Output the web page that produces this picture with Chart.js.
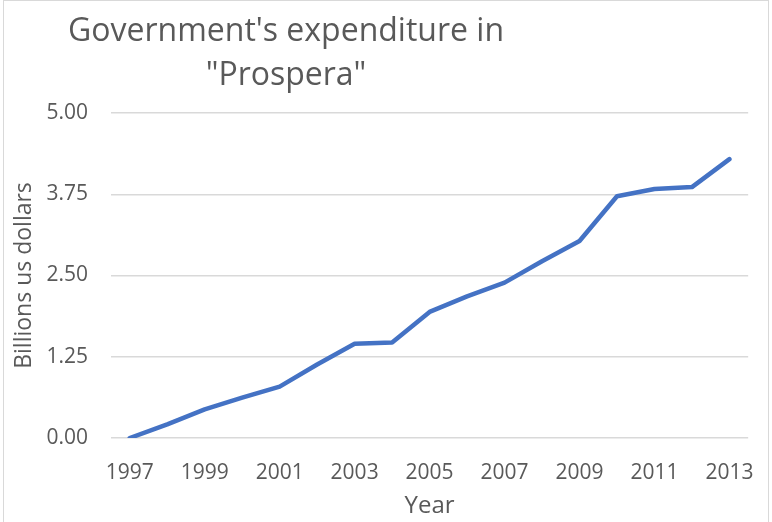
<!DOCTYPE html>
<html lang="en">
<head>
    <meta charset="UTF-8">
    <title>Government's expenditure in "Prospera"</title>
    <style>
        body {
            margin: 0;
            background: white;
            overflow: hidden;
            font-family: 'Open Sans', sans-serif;
        }
        .frame {
            position: absolute;
            left: 3px;
            top: 0;
            width: 766px;
            height: 530px;
            box-sizing: border-box;
            border: 1px solid #d9d9d9;
            background: white;
        }
        .chart-title {
            position: absolute;
            left: 32px;
            top: 6px;
            width: 500px;
            text-align: center;
            color: #595959;
            font-size: 32px;
            line-height: 44px;
        }
        .chart-box {
            position: absolute;
            left: 0;
            top: 0;
            width: 764px;
            height: 521px;
        }
    </style>
</head>
<body>
    <div class="frame">
        <div class="chart-box">
            <canvas id="expChart"></canvas>
        </div>
        <div class="chart-title">Government's expenditure in<br>"Prospera"</div>
    </div>

    <script src="https://cdn.jsdelivr.net/npm/chart.js"></script>
    <script>
        // values
        const years = ['1997', '1998', '1999', '2000', '2001', '2002', '2003', '2004', '2005',
                       '2006', '2007', '2008', '2009', '2010', '2011', '2012', '2013'];
        const spending = [0, 0.21, 0.44, 0.62, 0.79, 1.13, 1.45, 1.47, 1.94,
                          2.18, 2.39, 2.72, 3.03, 3.72, 3.83, 3.86, 4.29];
        const yTicks = [0, 1.25, 2.5, 3.75, 5];

        const grey = '#595959';
        const ctx = document.getElementById('expChart').getContext('2d');

        new Chart(ctx, {
            type: 'line',
            data: {
                labels: years,
                datasets: [{
                    label: 'Expenditure',
                    data: spending,
                    borderColor: '#4472C4',
                    borderWidth: 4.5,
                    borderCapStyle: 'round',
                    borderJoinStyle: 'round',
                    pointRadius: 0,
                    tension: 0,
                    fill: false
                }]
            },
            options: {
                responsive: true,
                maintainAspectRatio: false,
                animation: false,
                layout: {
                    padding: { top: 112, right: 19, left: 0, bottom: 0 }
                },
                plugins: {
                    legend: { display: false },
                    tooltip: { enabled: false }
                },
                scales: {
                    x: {
                        offset: true,
                        afterFit: axis => { axis.height = 84; },
                        grid: { display: false },
                        border: { display: false },
                        ticks: {
                            color: grey,
                            font: { family: 'Open Sans', size: 21 },
                            autoSkip: false,
                            maxRotation: 0,
                            padding: 14,
                            callback: function (val, i) {
                                return i % 2 === 0 ? years[i] : '';
                            }
                        },
                        title: {
                            display: true,
                            text: 'Year',
                            color: grey,
                            font: { family: 'Open Sans', size: 24 },
                            padding: { top: 0, bottom: 1 }
                        }
                    },
                    y: {
                        min: 0,
                        max: 5,
                        afterFit: axis => { axis.width = 107; },
                        afterBuildTicks: function (axis) {
                            axis.ticks = yTicks.map(v => ({ value: v }));
                        },
                        grid: {
                            color: '#d9d9d9',
                            lineWidth: 1.5,
                            drawTicks: false
                        },
                        border: { display: false },
                        ticks: {
                            color: grey,
                            font: { family: 'Open Sans', size: 21 },
                            padding: 23,
                            callback: v => v.toFixed(2)
                        },
                        title: {
                            display: true,
                            text: 'Billions us dollars',
                            color: grey,
                            font: { family: 'Open Sans', size: 23 },
                            padding: { top: 7, bottom: 0 }
                        }
                    }
                }
            }
        });
    </script>
</body>
</html>
